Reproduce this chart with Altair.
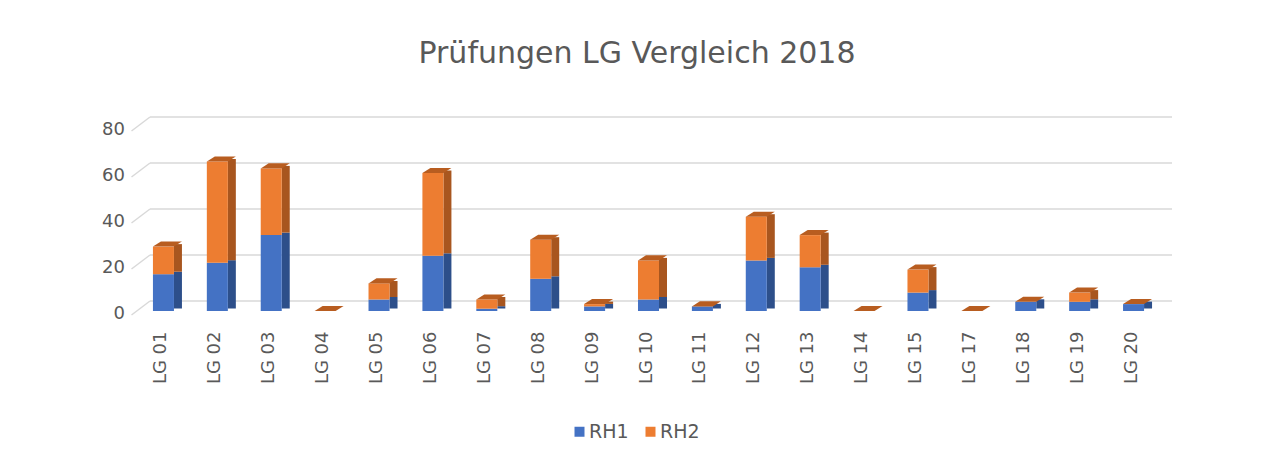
import altair as alt
import pandas as pd

categories = ["LG 01", "LG 02", "LG 03", "LG 04", "LG 05", "LG 06", "LG 07", "LG 08", "LG 09",
              "LG 10", "LG 11", "LG 12", "LG 13", "LG 14", "LG 15", "LG 17", "LG 18", "LG 19", "LG 20"]
rh1 = [16, 21, 33, 0, 5, 24, 1, 14, 2, 5, 2, 22, 19, 0, 8, 0, 4, 4, 3]
rh2 = [12, 44, 29, 0, 7, 36, 4, 17, 1, 17, 0, 19, 14, 0, 10, 0, 0, 4, 0]
series_names = ["RH1", "RH2"]
y_ticks = [0, 20, 40, 60, 80]

rows = []
for c, a, b in zip(categories, rh1, rh2):
    rows.append({"LG": c, "Reihe": "RH1", "Wert": a})
    rows.append({"LG": c, "Reihe": "RH2", "Wert": b})
df = pd.DataFrame(rows)
totals = pd.DataFrame({"LG": categories, "Summe": [a + b for a, b in zip(rh1, rh2)]})
grid = pd.DataFrame({"v": y_ticks})

FONT = "DejaVu Sans"
TXT = "#595959"
GRID = "#D9D9D9"

x_scale = alt.Scale(domain=categories, paddingInner=0.61, paddingOuter=0.305)
y_scale = alt.Scale(domain=[0, 80], nice=False)

x_axis = alt.Axis(title=None, labelAngle=-90, labelPadding=20, ticks=False, domain=False, grid=False,
                  labelFont=FONT, labelFontSize=18, labelColor=TXT, labelOffset=-2)
y_axis = alt.Axis(title=None, values=y_ticks, grid=False, domain=False, ticks=False,
                  labelPadding=12, labelOffset=2.5, labelFont=FONT, labelFontSize=18, labelColor=TXT)


def xenc():
    return alt.X("LG:N", scale=x_scale, sort=categories, axis=x_axis)


back = alt.Chart(grid).mark_rule(color=GRID, strokeWidth=1.5, yOffset=-10).encode(
    y=alt.Y("v:Q", scale=y_scale, axis=y_axis),
    x=alt.value(13.5), x2=alt.value(1035.5))

diag = alt.Chart(grid).mark_rule(color=GRID, strokeWidth=1.5, yOffset=4, y2Offset=-10).encode(
    y=alt.Y("v:Q", scale=y_scale, axis=y_axis), y2=alt.Y2("v:Q"),
    x=alt.value(-5), x2=alt.value(13.5))

side = alt.Chart(df).mark_bar(width=8, xOffset=14.5, yOffset=-2.5, y2Offset=-2.5).encode(
    x=xenc(),
    y=alt.Y("Wert:Q", stack="zero", scale=y_scale, axis=y_axis),
    color=alt.Color("Reihe:N", scale=alt.Scale(domain=series_names, range=["#2D4F8A", "#A8561F"]), legend=None),
    order=alt.Order("Reihe:N"))

front = alt.Chart(df).mark_bar().encode(
    x=xenc(),
    y=alt.Y("Wert:Q", stack="zero", scale=y_scale, axis=y_axis),
    color=alt.Color("Reihe:N", scale=alt.Scale(domain=series_names, range=["#4472C4", "#ED7D31"]),
                    legend=alt.Legend(title=None, orient="none", legendX=433.5, legendY=295,
                                      direction="horizontal", symbolType="square", symbolSize=100,
                                      symbolStrokeWidth=0, labelFont=FONT, labelFontSize=19,
                                      labelColor=TXT, labelOffset=0, columnPadding=12)),
    order=alt.Order("Reihe:N"))

top = alt.Chart(totals).mark_point(
    shape="M-1,0L1,0L1.76,-0.48L-0.24,-0.48Z", size=441, filled=True, opacity=1,
    color="#B85D20", strokeWidth=0).encode(
    x=xenc(),
    y=alt.Y("Summe:Q", scale=y_scale, axis=y_axis))

chart = alt.layer(back, diag, side, front, top).resolve_scale(color="independent").properties(
    width=1024, height=184,
    padding={"left": 128.5, "top": 119, "right": 86, "bottom": 144},
    autosize=alt.AutoSizeParams(type="none"),
    background="white",
    title=alt.Title("Prüfungen LG Vergleich 2018", font=FONT, fontSize=30, fontWeight="normal",
                    color=TXT, anchor="middle", dx=-11.5, offset=47),
).configure_view(stroke=None)

chart.save("out.html", embed_options={"renderer": "svg", "actions": False})
